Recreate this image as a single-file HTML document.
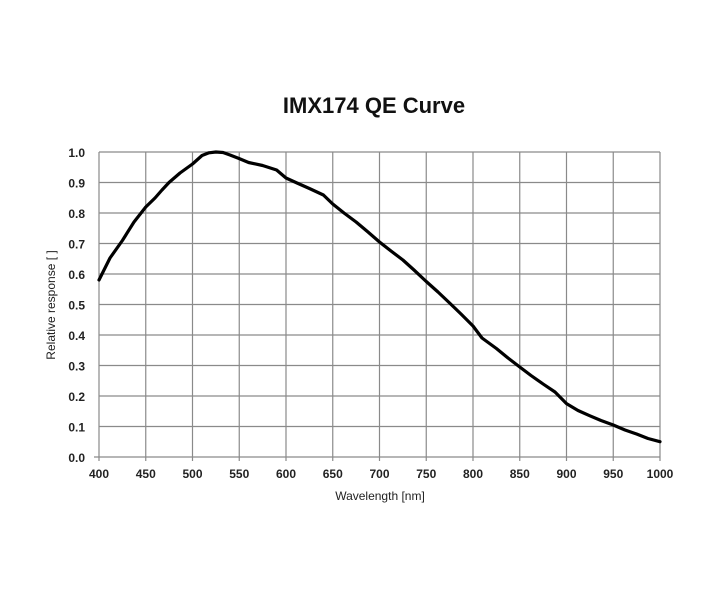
<!DOCTYPE html>
<html><head><meta charset="utf-8"><style>
body{margin:0;background:#fff;}
svg{display:block;}
</style></head><body>
<svg width="720" height="600" viewBox="0 0 720 600" xmlns="http://www.w3.org/2000/svg">
<rect width="720" height="600" fill="#fff"/>
<text x="374" y="113" text-anchor="middle" font-family="Liberation Sans, sans-serif" font-size="22" font-weight="bold" fill="#111">IMX174 QE Curve</text>
<g stroke="#8a8a8a" stroke-width="1.2">
<line x1="99" y1="152" x2="660" y2="152"/><line x1="99" y1="182.5" x2="660" y2="182.5"/><line x1="99" y1="213" x2="660" y2="213"/><line x1="99" y1="243.5" x2="660" y2="243.5"/><line x1="99" y1="274" x2="660" y2="274"/><line x1="99" y1="304.5" x2="660" y2="304.5"/><line x1="99" y1="335" x2="660" y2="335"/><line x1="99" y1="365.5" x2="660" y2="365.5"/><line x1="99" y1="396" x2="660" y2="396"/><line x1="99" y1="426.5" x2="660" y2="426.5"/><line x1="94" y1="457" x2="660" y2="457"/>
<line x1="99" y1="152" x2="99" y2="461"/><line x1="145.75" y1="152" x2="145.75" y2="461"/><line x1="192.5" y1="152" x2="192.5" y2="461"/><line x1="239.25" y1="152" x2="239.25" y2="461"/><line x1="286" y1="152" x2="286" y2="461"/><line x1="332.75" y1="152" x2="332.75" y2="461"/><line x1="379.5" y1="152" x2="379.5" y2="461"/><line x1="426.25" y1="152" x2="426.25" y2="461"/><line x1="473" y1="152" x2="473" y2="461"/><line x1="519.75" y1="152" x2="519.75" y2="461"/><line x1="566.5" y1="152" x2="566.5" y2="461"/><line x1="613.25" y1="152" x2="613.25" y2="461"/><line x1="660" y1="152" x2="660" y2="461"/>
</g>
<g font-family="Liberation Sans, sans-serif" font-size="12" font-weight="bold" fill="#222" text-anchor="end">
<text x="85" y="157">1.0</text><text x="85" y="187.5">0.9</text><text x="85" y="218">0.8</text><text x="85" y="248.5">0.7</text><text x="85" y="279">0.6</text><text x="85" y="309.5">0.5</text><text x="85" y="340">0.4</text><text x="85" y="370.5">0.3</text><text x="85" y="401">0.2</text><text x="85" y="431.5">0.1</text><text x="85" y="462">0.0</text>
</g>
<g font-family="Liberation Sans, sans-serif" font-size="12" font-weight="bold" fill="#222" text-anchor="middle">
<text x="99" y="478">400</text><text x="145.75" y="478">450</text><text x="192.5" y="478">500</text><text x="239.25" y="478">550</text><text x="286" y="478">600</text><text x="332.75" y="478">650</text><text x="379.5" y="478">700</text><text x="426.25" y="478">750</text><text x="473" y="478">800</text><text x="519.75" y="478">850</text><text x="566.5" y="478">900</text><text x="613.25" y="478">950</text><text x="660" y="478">1000</text>
</g>
<g font-family="Liberation Sans, sans-serif" font-size="12" fill="#222" text-anchor="middle">
<text x="380" y="500">Wavelength [nm]</text>
<text transform="translate(55,305) rotate(-90)">Relative response [ ]</text>
</g>
<polyline fill="none" stroke="#000" stroke-width="3.2" stroke-linejoin="round" stroke-linecap="round" points="99,280 110,258 122.4,240.5 134,222 145.75,207 155,198 162,190 169,182.5 180,173 192.5,164 202,155.5 209,152.8 215.9,152 223,152.5 230,155 239,158.5 248.6,162.5 262.6,165.5 276.6,170 286,178 297,183 309.4,188.5 323.4,195 332.75,204 344,213 356.1,222 368,232 379.5,242 391,251 402.9,260 414,270 426.25,281.5 438,292 449.6,303 461,314 473,326 482,338 496.4,348.5 508,358 519.75,367 531,375.5 543.1,384 555,392 566.5,403.6 578,410.5 589.9,415.8 601,420.5 613.25,425 625,430 636.6,434 648,438.5 660,441.7"/>
</svg>
</body></html>
